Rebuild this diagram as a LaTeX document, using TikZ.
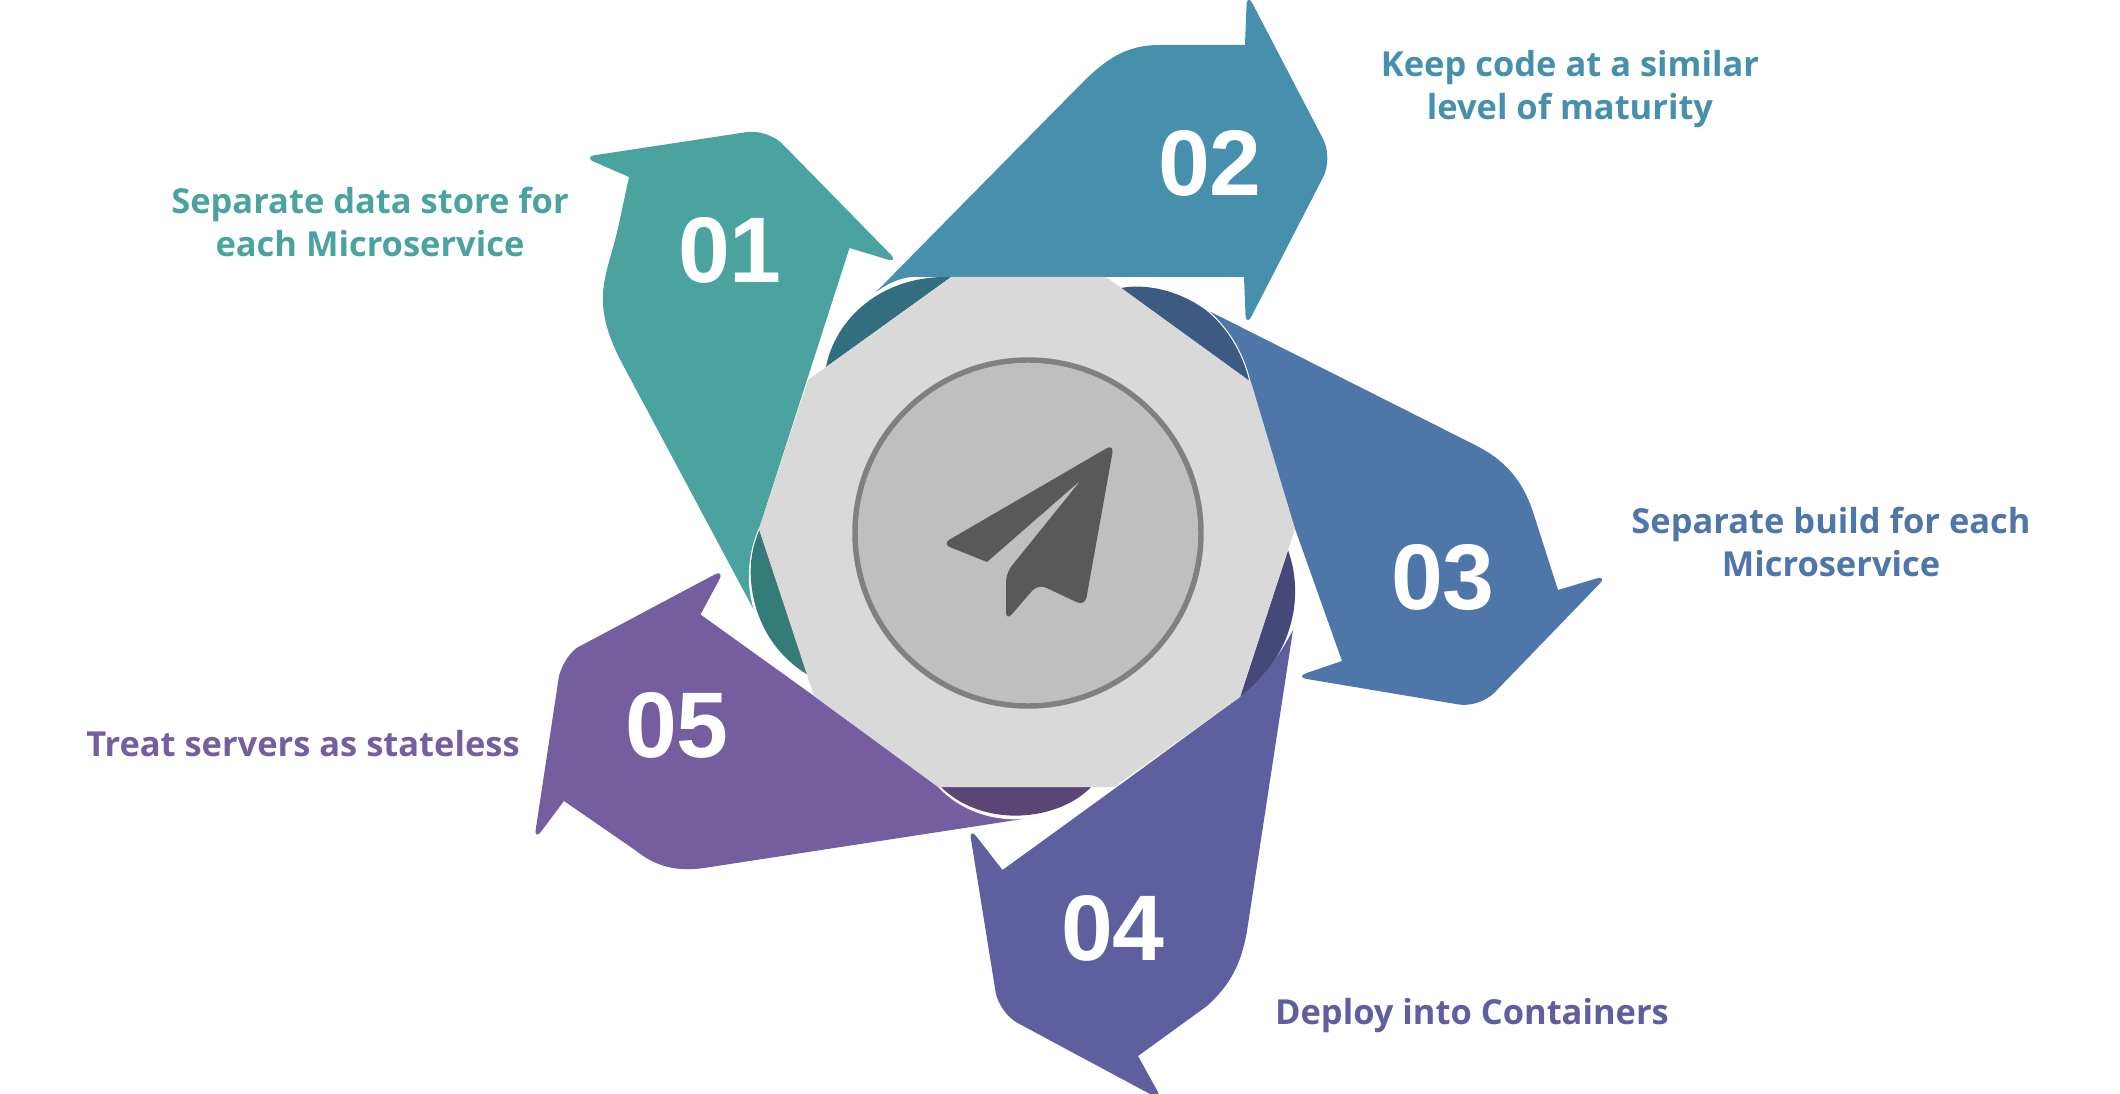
\documentclass[tikz,border=0pt]{standalone}
\usepackage{fontspec}
\setmainfont{Open Sans}
\newfontfamily\numfont{Liberation Sans}
\usepackage{tikz}
\definecolor{tealc}{RGB}{75,163,160}
\definecolor{tealf}{RGB}{53,124,120}
\definecolor{cyanc}{RGB}{70,144,173}
\definecolor{cyanf}{RGB}{51,109,128}
\definecolor{bluec}{RGB}{79,118,169}
\definecolor{bluef}{RGB}{60,90,130}
\definecolor{indic}{RGB}{95,94,159}
\definecolor{indif}{RGB}{70,72,122}
\definecolor{purpc}{RGB}{116,94,160}
\definecolor{purpf}{RGB}{90,70,117}
\tikzset{
  num/.style={text=white,font=\numfont\fontsize{26.5}{26.5}\selectfont\bfseries,inner sep=0pt},
  lbl/.style={align=center,inner sep=0pt,font=\fontsize{9.8}{12.3}\selectfont\bfseries},
  seam/.style={white!75!black!10,line width=0.3pt},
  tip/.style={rounded corners=3.5pt},
  bulge/.style={rounded corners=6pt},
}
\begin{document}
\begin{tikzpicture}[x=0.01cm,y=-0.01cm]
  \useasboundingbox (0,0) rectangle (2120,1094);
  % folds behind the arrows
  \fill[tealf] (759,529) .. controls (741,570) and (750,640) .. (808,675) -- cycle;
  \fill[cyanf] (826,367) .. controls (835,320) and (880,275) .. (951,277) -- cycle;
  \fill[bluef] (1121,288) .. controls (1162,280) and (1235,305) .. (1250,382) -- cycle;
  \fill[indif] (1288,550) .. controls (1306,600) and (1290,660) .. (1240,697) -- cycle;
  \fill[purpf] (1091,787) .. controls (1060,820) and (985,830) .. (941,787) -- cycle;
  % arrows
  \fill[tealc] (759,529) -- (849.5,248) [tip] -- (899,263) [bulge] -- (767.7,128.9)
     [tip] -- (583,157) [sharp corners] -- (629,177) -- (618,228)
     .. controls (607,277) and (588,300) .. (623,365) -- (755,612) .. controls (746,585) and (748,555) .. (759,529) -- cycle;
  \fill[cyanc] (912,277) -- (1244,277) [tip] -- (1246,327) [bulge] -- (1333,158)
     [tip] -- (1247,-7) [sharp corners] -- (1245,45) -- (1160,45)
     .. controls (1125,45) and (1105,60) .. (1080,85) -- (876,292) .. controls (888,283) and (900,278) .. (912,277) -- cycle;
  \fill[bluec] (1207,310) -- (1475,445) .. controls (1505,460) and (1523,480) .. (1534,515) -- (1558,590)
     [tip] -- (1608,575) [bulge] -- (1479.6,708)
     [tip] -- (1295,677) [sharp corners] -- (1342,661) -- (1293,523) -- (1250,382)
     .. controls (1243,350) and (1225,325) .. (1207,310) -- cycle;
  \fill[indic] (1240,697) .. controls (1262,680) and (1280,655) .. (1293,630) -- (1247,931)
     .. controls (1241,965) and (1230,985) .. (1207,1006) -- (1138,1056)
     [tip] -- (1163,1101) [bulge] -- (999,1013)
     [tip] -- (969,827) [sharp corners] -- (1002.5,870) -- (1117,787) -- cycle;
  \fill[purpc] (939,787) .. controls (955,805) and (990,825) .. (1036,817) -- (704,868)
     .. controls (675,872) and (655,866) .. (635,850) -- (564,801)
     [tip] -- (534,841) [sharp corners] -- (559,676) .. controls (562,665) and (568,655) .. (576.5,648)
     [tip] -- (725,569) [sharp corners] -- (700.5,614.5) -- (814,696) -- cycle;
  \draw[seam] (755,612) .. controls (746,585) and (748,555) .. (759,529);
  \draw[seam] (1250,382) .. controls (1243,350) and (1225,325) .. (1207,310);
  \draw[seam] (939,787) .. controls (955,805) and (990,825) .. (1036,817);
  % hub
  \fill[black!15] (952,277) -- (1106,277) -- (1251,382) -- (1295,529) -- (1240,697) -- (1114,787)
     -- (938,787) -- (814,696) -- (759,529) -- (808,380) -- cycle;
  \draw[fill=black!25,draw=black!50,line width=1.55pt] (1028,533) circle (173);
  \fill[black!65] (1081,480) -- (987,562) [rounded corners=2.5pt] -- (942,544) -- (1114,444) -- (1085,606) -- (1038,584)
     -- (1006,621) -- (1006,573) [sharp corners] -- cycle;
  \foreach \i/\x/\y in {1/730/250,2/1210/163,3/1443/577,4/1113/928,5/677/725}{
     \node[num] (num\i) at (\x,\y) {0\i};}
  \node[lbl,tealc] (lbl1) at (370,222) {Separate data store for\\each Microservice};
  \node[lbl,cyanc] (lbl2) at (1570,89) {Keep code at a similar\\level of maturity};
  \node[lbl,bluec] (lbl3) at (1831,542) {Separate build for each\\Microservice};
  \node[lbl,indic] (lbl4) at (1472,1016) {Deploy into Containers};
  \node[lbl,purpc] (lbl5) at (303,744) {Treat servers as stateless};
\end{tikzpicture}
\end{document}
